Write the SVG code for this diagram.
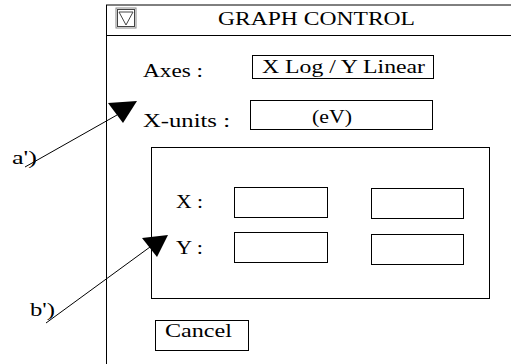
<svg xmlns="http://www.w3.org/2000/svg" width="511" height="364" viewBox="0 0 511 364">
<style>
text{font-family:"Liberation Serif","DejaVu Serif",serif;font-size:18px;fill:#000}
.box{fill:#fff;stroke:#000;stroke-width:1}
.ln{stroke:#000;stroke-width:1;fill:none}
.ah{fill:#000;stroke:none}
</style>
<rect width="511" height="364" fill="#fff"/>
<g id="window">
<line class="ln" x1="106" y1="5" x2="511" y2="5" stroke-width="1.5"/>
<line class="ln" x1="106" y1="35.5" x2="511" y2="35.5"/>
<line class="ln" x1="106.5" y1="5" x2="106.5" y2="364"/>
</g>
<g id="checkbox">
<rect x="116" y="8" width="20" height="20" fill="#fff" stroke="#888" stroke-width="1"/>
<rect x="117.5" y="9.5" width="17" height="17" fill="none" stroke="#444" stroke-width="1"/>
<path d="M119 12 L133 12 L126 25 Z" fill="none" stroke="#444" stroke-width="1"/>
</g>
<g id="title"><text x="218" y="25" textLength="197" lengthAdjust="spacingAndGlyphs">GRAPH CONTROL</text></g>
<g id="axes">
<text x="143" y="77" textLength="60" lengthAdjust="spacingAndGlyphs">Axes :</text>
<rect class="box" x="252.5" y="55.5" width="181" height="23"/>
<text x="262" y="73" textLength="163" lengthAdjust="spacingAndGlyphs">X Log / Y Linear</text>
</g>
<g id="xunits">
<text x="143" y="127" textLength="87" lengthAdjust="spacingAndGlyphs">X-units :</text>
<rect class="box" x="250.5" y="100.5" width="182" height="29"/>
<text x="312" y="123" textLength="40" lengthAdjust="spacingAndGlyphs">(eV)</text>
</g>
<g id="panel">
<rect class="box" x="151.5" y="147.5" width="338" height="151"/>
<text x="176" y="208" textLength="27" lengthAdjust="spacingAndGlyphs">X :</text>
<text x="176" y="254" textLength="27" lengthAdjust="spacingAndGlyphs">Y :</text>
<rect class="box" x="234.5" y="187.5" width="93" height="30"/>
<rect class="box" x="371.5" y="188.5" width="92" height="30"/>
<rect class="box" x="234.5" y="232.5" width="93" height="30"/>
<rect class="box" x="371.5" y="234.5" width="92" height="30"/>
</g>
<g id="cancel">
<rect class="box" x="155.5" y="320.5" width="93" height="30"/>
<text x="165" y="337" textLength="67" lengthAdjust="spacingAndGlyphs">Cancel</text>
</g>
<g id="labels">
<text x="12" y="164" textLength="25" lengthAdjust="spacingAndGlyphs">a')</text>
<text x="30" y="316" textLength="25" lengthAdjust="spacingAndGlyphs">b')</text>
</g>
<g id="connectors">
<line class="ln" x1="25" y1="167" x2="117" y2="115"/>
<path class="ah" d="M137 101 L108 103 L123 123 Z"/>
<line class="ln" x1="46" y1="323" x2="150" y2="247"/>
<path class="ah" d="M168 235 L142 238 L157 257 Z"/>
</g>
</svg>
